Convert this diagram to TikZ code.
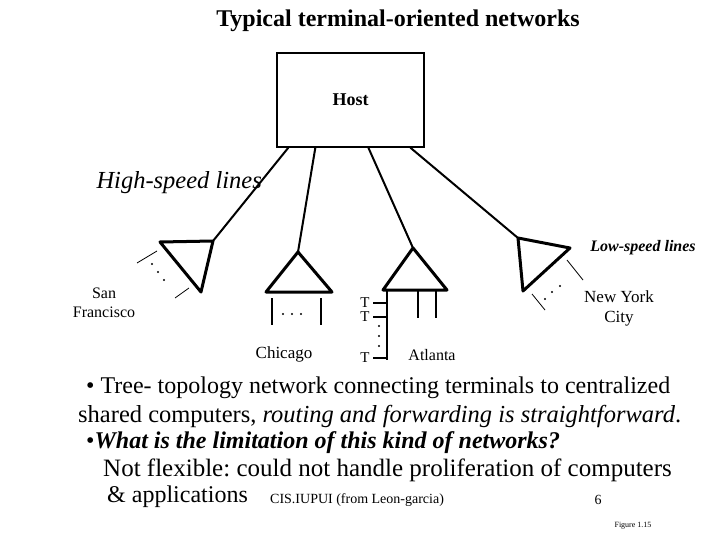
\documentclass[tikz,border=0pt]{standalone}
\usepackage{fontspec}
\setmainfont{Liberation Serif}
\usepackage{tikz}
\usetikzlibrary{positioning,calc}
\frenchspacing

\begin{document}
\begin{tikzpicture}[x=1pt,y=-1pt,
    trunk/.style={line width=2pt},
    conc/.style={line width=3pt,line join=round},
    wire/.style={line width=0.8pt},
    term/.style={line width=2.5pt}]
    \useasboundingbox (0,0) rectangle (720,540);

    % title and host
    \node[font=\fontsize{24}{28}\selectfont\bfseries] (title) at (398,21) {Typical terminal-oriented networks};
    \node[draw,line width=1.3pt,minimum width=147pt,minimum height=94pt,font=\fontsize{18}{21}\selectfont\bfseries] (host) at (350.5,100) {Host};

    % concentrators
    \coordinate (sfA) at (160,242); \coordinate (sfB) at (213,241); \coordinate (sfC) at (201,292);
    \coordinate (chA) at (298,252); \coordinate (chB) at (266,292); \coordinate (chC) at (332,292);
    \coordinate (atA) at (413,248); \coordinate (atB) at (383,290); \coordinate (atC) at (447,290);
    \coordinate (nyA) at (518,238); \coordinate (nyB) at (570,248); \coordinate (nyC) at (523,291);
    \draw[conc] (sfA) -- (sfB) -- (sfC) -- cycle;
    \draw[conc] (chA) -- (chB) -- (chC) -- cycle;
    \draw[conc] (atA) -- (atB) -- (atC) -- cycle;
    \draw[conc] (nyA) -- (nyB) -- (nyC) -- cycle;

    % high-speed lines
    \draw[trunk] (host.south west) ++(12,0) -- (sfB);
    \draw[trunk] (host.south west) ++(39,0) -- (chA);
    \draw[trunk] (host.south west) ++(92,0) -- (atA);
    \draw[trunk] (host.south west) ++(134,0) -- (nyA);
    \node[font=\fontsize{24.5}{28}\selectfont\itshape,anchor=west] (hsl) at (93,183) {High-speed lines};

    % San Francisco
    \draw[wire] (137,263) -- (157,251);
    \draw[wire] (175,298) -- (189,288);
    \foreach \p in {(152,264),(158,272),(164,280)} \fill \p circle (1.2pt);
    \node[font=\fontsize{16}{19}\selectfont,align=center] (sf) at (104,303) {San\\Francisco};

    % Chicago
    \draw[term] (272,298) -- (272,325);
    \draw[term] (321,298) -- (321,325);
    \foreach \x in {283,292,301} \fill (\x,314) circle (1.1pt);
    \node[font=\fontsize{17}{20}\selectfont] (chi) at (284,354) {Chicago};

    % Atlanta
    \draw[term] (387,290) -- (387,360);
    \draw[term] (418,290) -- (418,318);
    \draw[term] (436,290) -- (436,318);
    \foreach \y/\n in {303/t1,317/t2,358/t3} {
        \node[font=\fontsize{15}{17}\selectfont] (\n) at (365,\y) {T};
        \draw[term] (373,\y) -- (387,\y);
    }
    \foreach \y in {326,336,346} \fill (379,\y) circle (1.1pt);
    \node[font=\fontsize{16}{19}\selectfont] (atl) at (432,355) {Atlanta};

    % New York City
    \draw[wire] (532,294) -- (545,310);
    \draw[wire] (567,260) -- (583,280);
    \foreach \p in {(545,299),(552,292),(560,286)} \fill \p circle (1.2pt);
    \node[font=\fontsize{17}{20}\selectfont,align=center] (nyc) at (619,308) {New York\\City};
    \node[font=\fontsize{16}{18}\selectfont\bfseries\itshape] (lsl) at (643,248) {Low-speed lines};

    % text below
    \begin{scope}[every node/.style={anchor=west,inner sep=0pt}]
        \node[font=\fontsize{24}{28}\selectfont] (l1) at (86,388) {\textbullet\ Tree- topology network connecting terminals to centralized};
        \node[font=\fontsize{24.5}{28}\selectfont] (l2) at (78,416) {shared computers, \textit{routing and forwarding is straightforward}.};
        \node[font=\fontsize{24}{28}\selectfont] (l3) at (86,443) {\textbullet\textbf{\textit{What is the limitation of this kind of networks?}}};
        \node[font=\fontsize{25}{28}\selectfont] (l4) at (103,470) {Not flexible: could not handle proliferation of computers};
        \node[font=\fontsize{24}{28}\selectfont] (l5) at (107,497) {\& applications};
    \end{scope}
    \node[font=\fontsize{14}{16}\selectfont,anchor=west,inner sep=0pt] (cis) at (270,500) {CIS.IUPUI (from Leon-garcia)};
    \node[font=\fontsize{14}{16}\selectfont] (pg) at (598,500) {6};
    \node[font=\fontsize{8}{10}\selectfont] (fig) at (633,526) {Figure 1.15};
\end{tikzpicture}
\end{document}
